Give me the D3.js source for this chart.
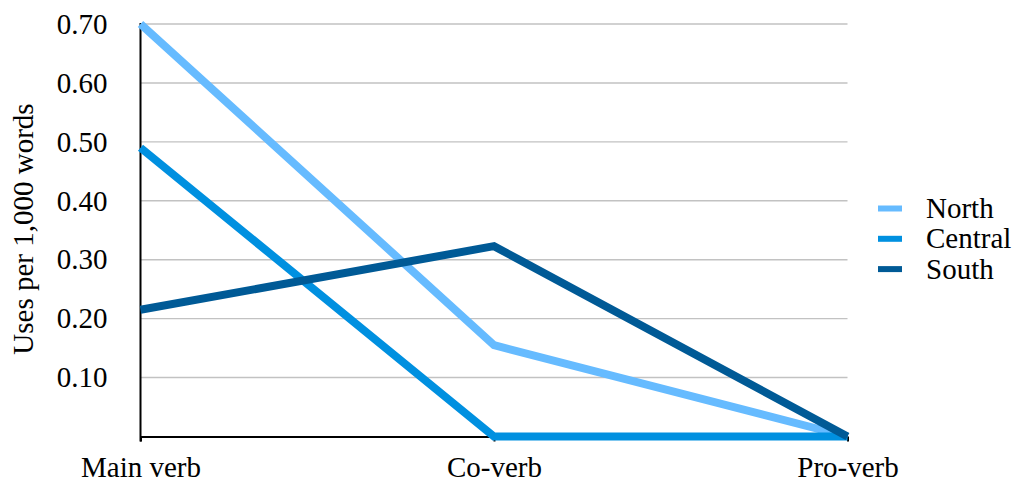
<!DOCTYPE html>
<html>
<head>
<meta charset="utf-8">
<script src="https://cdn.jsdelivr.net/npm/d3@7"></script>
<style>
  html, body { margin: 0; padding: 0; background: #fff; }
  svg { display: block; }
  text { font-family: "Liberation Serif", "Times New Roman", serif; fill: #000; }
</style>
</head>
<body>
<svg id="chart" width="1015" height="483"></svg>
<script>
// Usage rates per 1,000 words by verb function and region
const categories = ["Main verb", "Co-verb", "Pro-verb"];
const seriesNames = ["North", "Central", "South"];
const northValues = [0.70, 0.155, 0.0];
const centralValues = [0.49, 0.0, 0.0];
const southValues = [0.215, 0.323, 0.0];
const seriesColors = ["#66bbff", "#0090e0", "#005a96"];
const yTicks = [0.1, 0.2, 0.3, 0.4, 0.5, 0.6, 0.7];

const series = [
  { name: seriesNames[0], values: northValues, color: seriesColors[0] },
  { name: seriesNames[1], values: centralValues, color: seriesColors[1] },
  { name: seriesNames[2], values: southValues, color: seriesColors[2] }
];

const svg = d3.select("#chart");
const plotLeft = 140.5, plotRight = 847.5, plotTop = 24, plotBottom = 436.5;
const fontSize = 29;

const x = d3.scalePoint().domain(categories).range([plotLeft, plotRight]);
const y = d3.scaleLinear().domain([0, 0.7]).range([plotBottom, plotTop]);

// Horizontal gridlines
svg.append("g")
  .selectAll("line")
  .data(yTicks)
  .join("line")
  .attr("x1", plotLeft).attr("x2", plotRight)
  .attr("y1", d => y(d)).attr("y2", d => y(d))
  .attr("stroke", "#c2c2c2")
  .attr("stroke-width", 1.4);

// Y axis labels
const yAxis = d3.axisLeft(y).tickValues(yTicks).tickFormat(d3.format(".2f")).tickSize(0).tickPadding(33);
svg.append("g")
  .attr("transform", `translate(${plotLeft},0)`)
  .call(yAxis)
  .call(g => g.select(".domain").remove())
  .call(g => g.selectAll("text")
    .attr("font-family", "Liberation Serif, serif")
    .attr("font-size", fontSize)
    .attr("fill", "#000"));

// Y axis line
svg.append("line")
  .attr("x1", plotLeft).attr("x2", plotLeft)
  .attr("y1", plotTop - 1).attr("y2", plotBottom + 5)
  .attr("stroke", "#000").attr("stroke-width", 2);

// X axis baseline with category ticks
const xAxis = d3.axisBottom(x).tickSize(5).tickPadding(15).tickSizeOuter(0);
svg.append("g")
  .attr("transform", `translate(0,${plotBottom})`)
  .call(xAxis)
  .call(g => g.select(".domain").attr("stroke", "#000").attr("stroke-width", 2))
  .call(g => g.selectAll(".tick line").attr("stroke", "#000").attr("stroke-width", 2))
  .call(g => g.selectAll("text")
    .attr("font-family", "Liberation Serif, serif")
    .attr("font-size", fontSize)
    .attr("fill", "#000"));

// Y axis title
svg.append("text")
  .attr("transform", `translate(33,229) rotate(-90)`)
  .attr("text-anchor", "middle")
  .attr("font-size", fontSize)
  .text("Uses per 1,000 words");

// Series lines
const line = d3.line()
  .x((d, i) => x(categories[i]))
  .y(d => y(d));

svg.append("g")
  .selectAll("path")
  .data(series)
  .join("path")
  .attr("d", d => line(d.values))
  .attr("fill", "none")
  .attr("stroke", d => d.color)
  .attr("stroke-width", 8)
  .attr("stroke-linejoin", "miter")
  .attr("stroke-linecap", "butt");

// Legend
const legend = svg.append("g").attr("transform", "translate(878,208.5)");
const rows = legend.selectAll("g")
  .data(series)
  .join("g")
  .attr("transform", (d, i) => `translate(0,${i * 30.3})`);
rows.append("line")
  .attr("x1", 0).attr("x2", 24)
  .attr("y1", 0).attr("y2", 0)
  .attr("stroke", d => d.color)
  .attr("stroke-width", 6);
rows.append("text")
  .attr("x", 48)
  .attr("y", 9.5)
  .attr("font-size", fontSize)
  .text(d => d.name);
</script>
</body>
</html>
